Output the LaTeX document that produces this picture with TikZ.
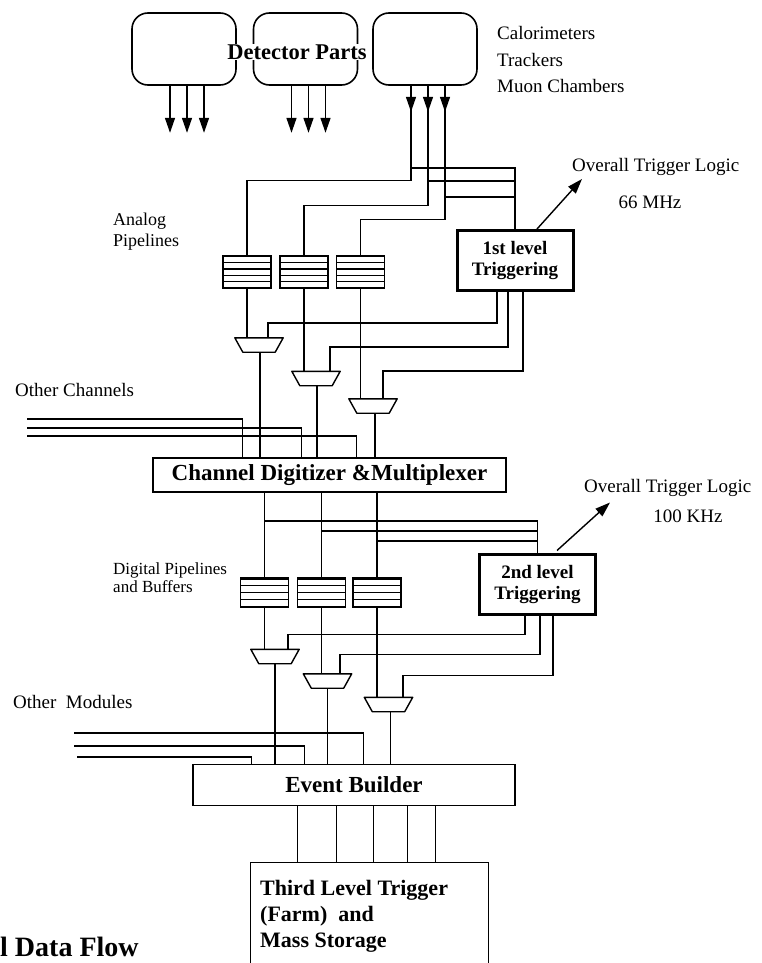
\documentclass[tikz,border=0pt]{standalone}
\usepackage{fontspec}
\setmainfont{Liberation Serif}
\usepackage{tikz}
\usetikzlibrary{arrows.meta,positioning,calc}

\begin{document}
\begin{tikzpicture}[x=1pt,y=-1pt,
  wire/.style={line width=1.3pt},
  tip/.style={-{Triangle[length=15pt,width=10pt]}, line width=1.4pt},
  detbox/.style={draw, line width=1.6pt, rounded corners=16pt, minimum width=104pt, minimum height=72pt, inner sep=0pt},
  pipeA/.style={draw, line width=1.4pt, minimum width=48pt, minimum height=32pt, inner sep=0pt,
    path picture={\foreach \f in {0.2,0.4,0.6,0.8}
      \draw[line width=1.4pt] ($(path picture bounding box.south west)!\f!(path picture bounding box.north west)$) -- ++(60,0);}},
  pipeD/.style={draw, line width=1.4pt, minimum width=48pt, minimum height=29pt, inner sep=0pt,
    path picture={\foreach \f in {0.25,0.5,0.75}
      \draw[line width=1.4pt] ($(path picture bounding box.south west)!\f!(path picture bounding box.north west)$) -- ++(60,0);
      \draw[line width=4pt] (path picture bounding box.north west) -- (path picture bounding box.north east);}},
  mux/.style={minimum width=48pt, minimum height=14pt, inner sep=0pt,
    append after command={\pgfextra{\let\mn\tikzlastnode
      \draw[line width=1.4pt, line join=round] (\mn.north west) -- (\mn.north east) -- ($(\mn.south east)+(-8,0)$)
        -- ($(\mn.south west)+(8,0)$) -- cycle;}}},
  trig/.style={draw, line width=3pt, align=center, font=\bfseries\fontsize{19}{21}\selectfont,
    minimum width=116pt, minimum height=60pt, inner sep=0pt},
  bigbox/.style={draw, line width=1.4pt, font=\bfseries\fontsize{23}{26}\selectfont, inner sep=0pt},
  lbl/.style={font=\fontsize{19}{22}\selectfont, inner sep=0pt},
  small/.style={font=\fontsize{17}{18}\selectfont, inner sep=0pt, align=left}
]
\useasboundingbox (0,0) rectangle (761,963);

% detector parts
\node[detbox] (d1) at (184,49) {};
\node[detbox] (d2) at (305.5,49) {};
\node[detbox] (d3) at (425,49) {};
\node[fill=white, inner sep=1pt, font=\bfseries\fontsize{22.5}{24}\selectfont] (dp) at (297,52) {Detector Parts};
\node[lbl, anchor=west] (cal) at (497,33) {Calorimeters};
\node[lbl, anchor=west] (trk) at (497,60) {Trackers};
\node[lbl, anchor=west] (muc) at (497,86) {Muon Chambers};

\foreach \dx in {-14,3,20} {
  \draw[tip] ($(d1.south)+(\dx,0)$) -- ++(0,47);
  \draw[tip] ($(d2.south)+(\dx,0)$) -- ++(0,47);
  \draw[tip] ($(d3.south)+(\dx,0)$) -- ++(0,26);
}
\coordinate (t1) at ($(d3.south)+(-14,0)$);
\coordinate (t2) at ($(d3.south)+(3,0)$);
\coordinate (t3) at ($(d3.south)+(20,0)$);

% analog pipelines and first level trigger
\node[pipeA] (pA1) at (247,272) {};
\node[pipeA] (pA2) at (304,272) {};
\node[pipeA] (pA3) at (360.5,272) {};
\node[small, font=\fontsize{18}{21}\selectfont, anchor=north west] (apl) at (113,213) {Analog\\Pipelines};
\node[trig] (tg1) at (515,260.5) {1st level\\Triggering};

\coordinate (ya1) at (0,168);
\coordinate (ya2) at (0,181);
\coordinate (ya3) at (0,197);
\draw[wire] (t1) -- ++(0,95) -| (pA1.north);
\draw[wire] (t2) -- ++(0,120) -| (pA2.north);
\draw[wire] (t3) -- ++(0,134) -| (pA3.north);
\draw[wire] (t1 |- ya1) -| (tg1.north);
\draw[wire] (t2 |- ya2) -- (tg1.north |- ya2);
\draw[wire] (t3 |- ya3) -- (tg1.north |- ya3);

\draw[tip] ($(tg1.north)+(22,0)$) -- ++(45,-50);
\node[lbl, anchor=west] (otl1) at (572,167) {Overall Trigger Logic};
\node[lbl] (f1) at (650,202) {66 MHz};

% first multiplexers
\node[mux] (mA1) at (259,345) {};
\node[mux] (mA2) at (316,378.5) {};
\node[mux] (mA3) at (373,406) {};
\draw[wire] (pA1.south) -- (pA1.south |- mA1.north);
\draw[wire] (pA2.south) -- (pA2.south |- mA2.north);
\draw[wire] (pA3.south) -- (pA3.south |- mA3.north);
\draw[wire] ($(tg1.south)+(-18,0)$) -- ++(0,31) -| ($(mA1.north)+(9,0)$);
\draw[wire] ($(tg1.south)+(-7,0)$) -- ++(0,55) -| ($(mA2.north)+(14,0)$);
\draw[wire] ($(tg1.south)+(8,0)$) -- ++(0,79) -| ($(mA3.north)+(10,0)$);

% digitizer
\node[bigbox, minimum width=353pt, minimum height=34pt] (dig) at (329.5,475) {Channel Digitizer \&Multiplexer};
\draw[wire] ($(mA1.south)+(1,0)$) -- ($(mA1.south |- dig.north)+(1,0)$);
\draw[wire] ($(mA2.south)+(1,0)$) -- ($(mA2.south |- dig.north)+(1,0)$);
\draw[wire] ($(mA3.south)+(2,0)$) -- ($(mA3.south |- dig.north)+(2,0)$);
\node[lbl, anchor=west] (och) at (15,390) {Other Channels};
\coordinate (oc1) at (27,419);
\coordinate (oc2) at (27,428);
\coordinate (oc3) at (27,436);
\draw[wire] (oc1) -| ($(dig.north west)+(90,0)$);
\draw[wire] (oc2) -| ($(dig.north west)+(149,0)$);
\draw[wire] (oc3) -| ($(dig.north west)+(204,0)$);

% digital pipelines and second level trigger
\node[pipeD] (pD1) at (264.5,592.5) {};
\node[pipeD] (pD2) at (321.5,592.5) {};
\node[pipeD] (pD3) at (377,592.5) {};
\node[small, anchor=north west] (dpl) at (113,562) {Digital Pipelines\\and Buffers};
\node[trig] (tg2) at (537.5,584) {2nd level\\Triggering};

\coordinate (yc1) at (0,521);
\coordinate (yc2) at (0,531);
\coordinate (yc3) at (0,541);
\draw[wire] (pD1.north |- dig.south) -- (pD1.north);
\draw[wire] (pD2.north |- dig.south) -- (pD2.north);
\draw[wire] (pD3.north |- dig.south) -- (pD3.north);
\draw[wire] (pD1.north |- yc1) -| (tg2.north);
\draw[wire] (pD2.north |- yc2) -- (tg2.north |- yc2);
\draw[wire] (pD3.north |- yc3) -- (tg2.north |- yc3);

\draw[tip] ($(tg2.north)+(19.5,-2)$) -- ++(53,-48);
\node[lbl, anchor=west] (otl2) at (584,488) {Overall Trigger Logic};
\node[lbl] (f2) at (688,516) {100 KHz};

% second multiplexers
\node[mux] (mD1) at (275,656.5) {};
\node[mux] (mD2) at (327.5,681) {};
\node[mux] (mD3) at (388.5,704.5) {};
\draw[wire] (pD1.south) -- (pD1.south |- mD1.north);
\draw[wire] (pD2.south) -- (pD2.south |- mD2.north);
\draw[wire] (pD3.south) -- (pD3.south |- mD3.north);
\draw[wire] ($(tg2.south)+(-12.5,0)$) -- ++(0,19) -| ($(mD1.north)+(13,0)$);
\draw[wire] ($(tg2.south)+(2.5,0)$) -- ++(0,39) -| ($(mD2.north)+(12.5,0)$);
\draw[wire] ($(tg2.south)+(15.5,0)$) -- ++(0,60) -| ($(mD3.north)+(14.5,0)$);

% event builder
\node[bigbox, minimum width=322pt, minimum height=41pt] (eb) at (354,785) {Event Builder};
\draw[wire] (mD1.south) -- (mD1.south |- eb.north);
\draw[wire] (mD2.south) -- (mD2.south |- eb.north);
\draw[wire] ($(mD3.south)+(2,0)$) -- ($(mD3.south |- eb.north)+(2,0)$);
\node[lbl, anchor=west] (omo) at (13,702) {Other~ Modules};
\coordinate (om1) at (74,733);
\coordinate (om2) at (74,746);
\coordinate (om3) at (77,757);
\draw[wire] (om1) -| ($(eb.north west)+(171,0)$);
\draw[wire] (om2) -| ($(eb.north west)+(112,0)$);
\draw[wire] (om3) -| ($(eb.north west)+(59,0)$);

% third level
\node[draw, line width=1.4pt, minimum width=238pt, minimum height=120pt, anchor=north west, inner sep=0pt] (tlt) at (250,862) {};
\node[anchor=north west, align=left, inner sep=0pt, font=\bfseries\fontsize{22}{26}\selectfont] (tltx) at (260,880) {Third Level Trigger\\(Farm)~ and\\Mass Storage};
\foreach \dx in {-72,-33,4,38,66}
  \draw[wire] ($(tlt.north)+(\dx,0)$) -- ++(0,-56.5);

\node[anchor=west, inner sep=0pt, font=\bfseries\fontsize{28}{30}\selectfont] (cap) at (0,947) {l Data Flow};
\end{tikzpicture}
\end{document}
